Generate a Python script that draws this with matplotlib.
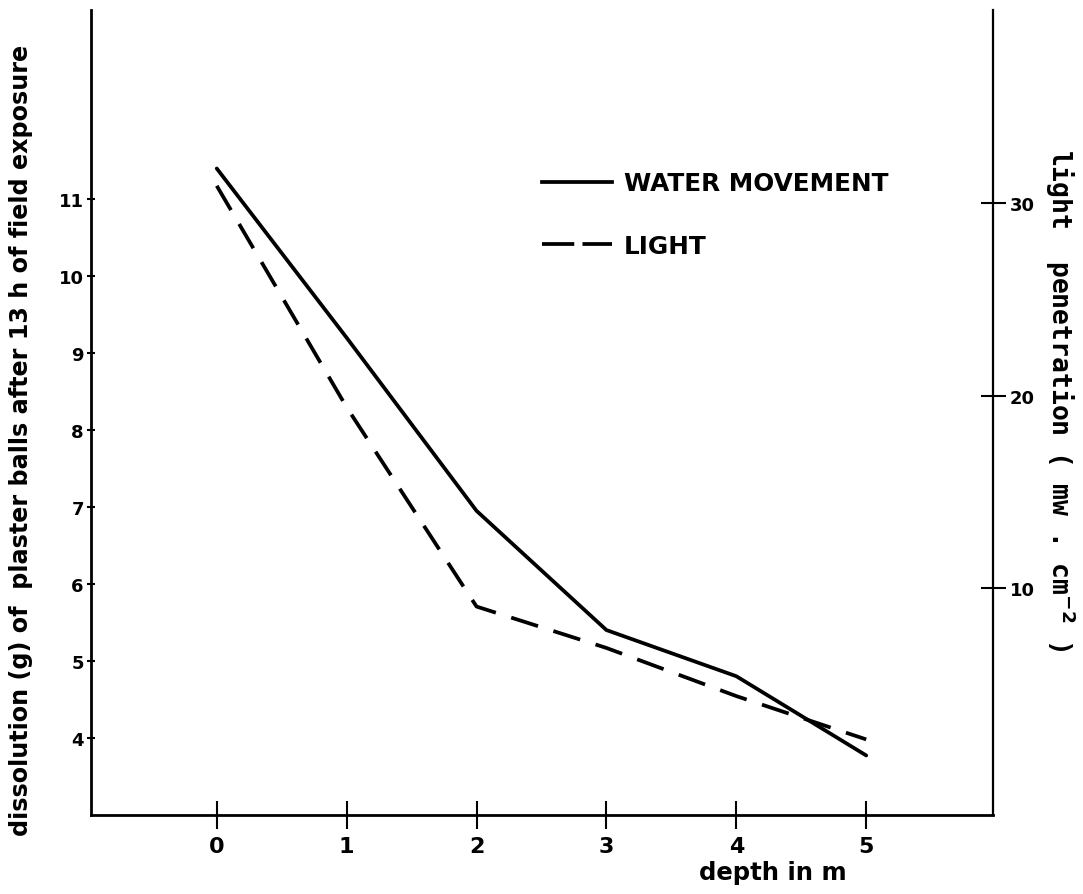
import matplotlib
matplotlib.use("Agg")
import matplotlib.pyplot as plt
from matplotlib.lines import Line2D

# depth (m) and readings taken off the figure
depth_water = [0, 1, 2, 3, 4, 5]
water_movement = [11.4, 9.2, 6.95, 5.4, 4.8, 3.77]   # g, left axis

depth_light = [0, 1, 2, 3, 4, 5]
light_penetration = [30.9, 19.4, 9.05, 6.9, 4.4, 2.15]  # mw.cm-2, right axis

x_ticks = [0, 1, 2, 3, 4, 5]
left_ticks = [4, 5, 6, 7, 8, 9, 10, 11]
right_ticks = [10, 20, 30]

plt.rcParams['font.family'] = ['DejaVu Sans']
plt.rcParams['font.weight'] = 'bold'

fig = plt.figure(figsize=(10.83, 8.95), dpi=100)
ax = fig.add_axes([0.0838, 0.0886, 0.8331, 0.8991])
ax2 = ax.twinx()

lw = 2.7
ax.plot(depth_water, water_movement, color='black', lw=lw,
        solid_capstyle='round', solid_joinstyle='round')
ax2.plot(depth_light, light_penetration, color='black', lw=lw,
         linestyle=(0, (7.5, 4.3)), dash_capstyle='butt')

ax.set_xlim(-0.97, 5.976)
ax.set_ylim(3, 13.46)
ax2.set_ylim(-1.76, 40.03)

ax.set_xticks(x_ticks)
ax.set_yticks(left_ticks)
ax2.set_yticks(right_ticks)

for a in (ax, ax2):
    a.spines['top'].set_visible(False)
ax.spines['right'].set_visible(False)
ax2.spines['left'].set_visible(False)
ax2.spines['bottom'].set_visible(False)
ax.spines['left'].set_linewidth(2.0)
ax.spines['bottom'].set_linewidth(2.0)
ax2.spines['right'].set_linewidth(1.6)

ax.tick_params(axis='y', direction='inout', length=6, width=1.5, pad=2,
               labelsize=13)
ax.tick_params(axis='x', direction='inout', length=20, width=1.5, pad=5,
               labelsize=16)
ax2.tick_params(axis='y', direction='inout', length=18, width=1.5, pad=3,
                labelsize=13)
for lab in ax.get_xticklabels() + ax.get_yticklabels() + ax2.get_yticklabels():
    lab.set_fontweight('bold')

ax.set_xlabel('depth in m', fontsize=17.5, fontweight='bold')
ax.xaxis.set_label_coords((773 - 90.7) / 902.3, (815.7 - 861) / 804.7)

ax.set_ylabel('dissolution (g) of  plaster balls after 13 h of field exposure',
              fontsize=17.2, fontweight='bold')
ax.yaxis.set_label_coords((33 - 90.7) / 902.3, (815.7 - 440) / 804.7)

ax2.set_ylabel('light  penetration ( mw . cm$^{-2}$ )', fontsize=19,
               fontweight='bold', family='DejaVu Sans Mono', rotation=270)
ax2.yaxis.set_label_coords((1078 - 90.7) / 902.3, (815.7 - 400) / 804.7)

handles = [
    Line2D([], [], color='black', lw=lw),
    Line2D([], [], color='black', lw=lw, linestyle=(0, (8.6, 2.2))),
]
leg = ax.legend(handles, ['WATER MOVEMENT', 'LIGHT'], loc='upper left',
                bbox_to_anchor=((520 - 90.7) / 902.3, (815.7 - 150) / 804.7),
                frameon=False, handlelength=2.8, handletextpad=0.5,
                labelspacing=1.55, prop={'size': 17.8, 'weight': 'bold'})

fig.savefig('out.png', dpi=100, facecolor='white')
